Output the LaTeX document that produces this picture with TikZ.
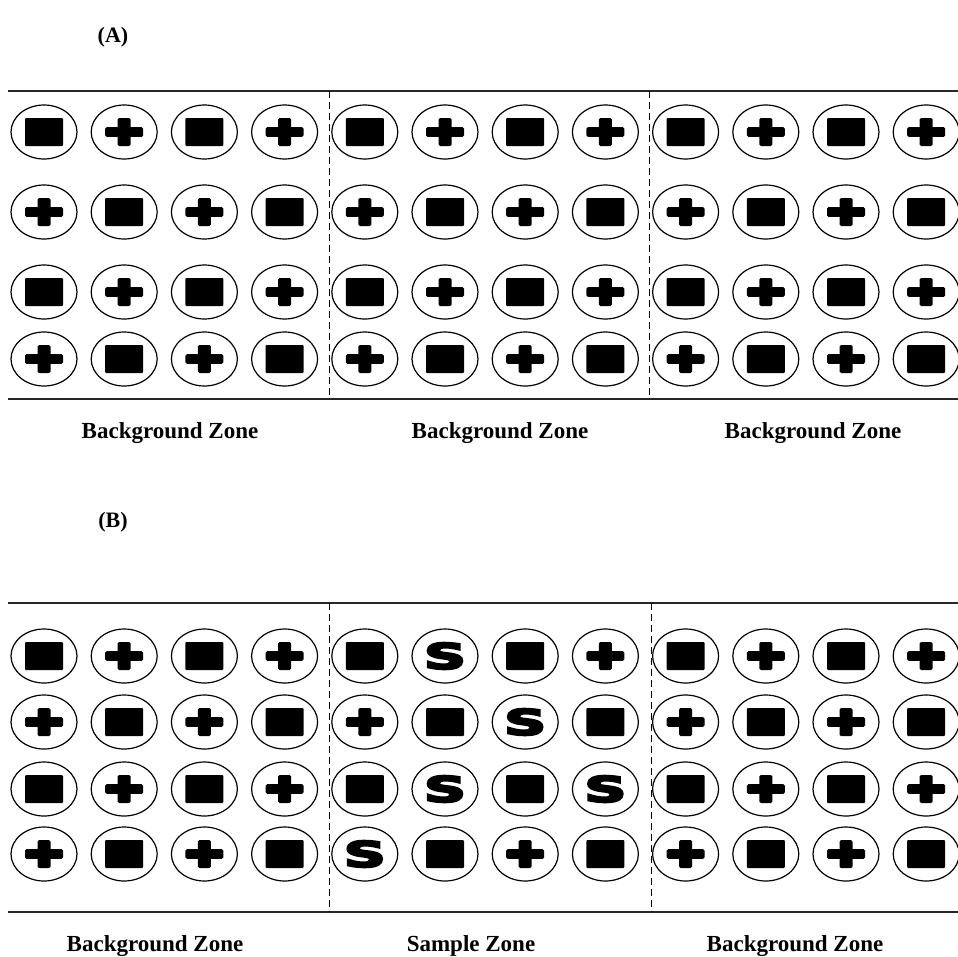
\documentclass[tikz,border=0pt]{standalone}
\usepackage{fontspec}
\setmainfont{Liberation Serif}
\newfontfamily\essfont[UprightFont={* Bold}, FakeBold=6]{DejaVu Sans}
\usetikzlibrary{shapes.geometric}
\tikzset{
  cell/.style={draw, ellipse, minimum width=66pt, minimum height=54pt, line width=1.2pt, inner sep=0pt},
  rail/.style={line width=1.6pt, black!85},
  divider/.style={line width=0.9pt, dash pattern=on 7pt off 4pt},
  zonelabel/.style={font=\bfseries\fontsize{23}{25}\selectfont, anchor=base, inner sep=0pt},
  panellabel/.style={font=\bfseries\fontsize{22}{24}\selectfont, anchor=base, inner sep=0pt},
  essglyph/.style={inner sep=0pt, font=\essfont\fontsize{35}{35}\selectfont},
  symR/.pic={\fill[rounded corners=1pt] (-19,-14) rectangle (19,14);},
  symP/.pic={\fill[rounded corners=1.5pt] (-19,-4.8) rectangle (19,4.8);
             \fill[rounded corners=1.5pt] (-6.5,-14) rectangle (6.5,14);},
  symS/.pic={\node[essglyph] {\scalebox{1.65}[1]{S}};}
}
\begin{document}
\begin{tikzpicture}[x=1pt,y=-1pt]
\useasboundingbox (0,0) rectangle (958,956);

% ---------- panel A ----------
\node[panellabel] (labA) at (113,42) {(A)};
\coordinate (aTL) at (8,91);   \coordinate (aTR) at (958,91);
\coordinate (aBL) at (8,399);  \coordinate (aBR) at (958,399);
\coordinate (aD1t) at (329,91); \coordinate (aD1b) at (329,399);
\coordinate (aD2t) at (649,91); \coordinate (aD2b) at (649,399);
\draw[rail] (aTL) -- (aTR);
\draw[rail] (aBL) -- (aBR);
\draw[divider] (aD1t) -- (aD1b);
\draw[divider] (aD2t) -- (aD2b);

\foreach \y/\row [count=\r] in {
  132/{R,P,R,P,R,P,R,P,R,P,R,P},
  212/{P,R,P,R,P,R,P,R,P,R,P,R},
  292/{R,P,R,P,R,P,R,P,R,P,R,P},
  359/{P,R,P,R,P,R,P,R,P,R,P,R}}{
  \foreach \t [count=\c] in \row {
    \node[cell] (a\r-\c) at ({44+(\c-1)*80.2},\y) {};
    \pic at (a\r-\c) {sym\t};
  }
}

\node[zonelabel] (za1) at (170,438) {Background Zone};
\node[zonelabel] (za2) at (500,438) {Background Zone};
\node[zonelabel] (za3) at (813,438) {Background Zone};

% ---------- panel B ----------
\node[panellabel] (labB) at (113,527) {(B)};
\coordinate (bTL) at (8,603);   \coordinate (bTR) at (958,603);
\coordinate (bBL) at (8,912);   \coordinate (bBR) at (958,912);
\coordinate (bD1t) at (329,603); \coordinate (bD1b) at (329,912);
\coordinate (bD2t) at (651,603); \coordinate (bD2b) at (651,912);
\draw[rail] (bTL) -- (bTR);
\draw[rail] (bBL) -- (bBR);
\draw[divider] (bD1t) -- (bD1b);
\draw[divider] (bD2t) -- (bD2b);

\foreach \y/\row [count=\r] in {
  656/{R,P,R,P,R,S,R,P,R,P,R,P},
  722/{P,R,P,R,P,R,S,R,P,R,P,R},
  789/{R,P,R,P,R,S,R,S,R,P,R,P},
  854/{P,R,P,R,S,R,P,R,P,R,P,R}}{
  \foreach \t [count=\c] in \row {
    \node[cell] (b\r-\c) at ({44+(\c-1)*80.2},\y) {};
    \pic at (b\r-\c) {sym\t};
  }
}

\node[zonelabel] (zb1) at (155,951) {Background Zone};
\node[zonelabel] (zb2) at (471,951) {Sample Zone};
\node[zonelabel] (zb3) at (795,951) {Background Zone};
\end{tikzpicture}
\end{document}
